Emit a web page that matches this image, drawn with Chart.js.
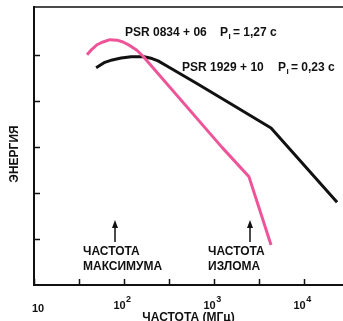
<!DOCTYPE html>
<html>
<head>
<meta charset="utf-8">
<script src="https://cdn.jsdelivr.net/npm/chart.js@4/dist/chart.umd.min.js"></script>
<style>
  html, body { margin: 0; padding: 0; background: #fff; }
  canvas { display: block; }
</style>
</head>
<body>
<canvas id="chart" width="343" height="321"></canvas>
<script>
// Pulsar radio spectra: energy vs frequency (MHz, log axis)

const freqTicks = [10, 31.62, 100, 316.2, 1000, 3162, 10000];
const freqTickLabels = ["10", "", "10^2", "", "10^3", "", "10^4"];
const energyTicks = [1, 2, 3, 4, 5];

// PSR 0834 + 06, P = 1,27 c
const freq0834 = [38.8, 44, 50.1, 58.4, 69.9, 83.6, 97.5, 116.6, 139, 162.6, 1227, 2448, 4300];
const energy0834 = [5.0, 5.12, 5.22, 5.28, 5.33, 5.32, 5.28, 5.2, 5.1, 4.97, 2.99, 2.35, 0.87];

// PSR 1929 + 10, P = 0,23 c
const freq1929 = [49, 60, 74, 93, 120, 167, 205, 239, 293, 631, 1468, 4300, 23300];
const energy1929 = [4.72, 4.83, 4.89, 4.93, 4.96, 4.96, 4.92, 4.87, 4.77, 4.39, 3.96, 3.41, 1.80];

const FONT = "'Liberation Sans', Arial, sans-serif";
const INK = "#111";
const PINK = "rgb(238, 84, 152)";

function toPoints(xs, ys) {
  return xs.map((x, i) => ({ x, y: ys[i] }));
}

// top frame line, inward tick marks, tick labels and the text notes
const frameAndNotes = {
  id: "frameAndNotes",
  afterDraw(chart) {
    const { ctx, chartArea: a, scales: { x, y } } = chart;
    ctx.save();
    ctx.strokeStyle = INK;
    ctx.fillStyle = INK;
    ctx.lineWidth = 1.5;

    ctx.beginPath();
    ctx.moveTo(a.left, a.top);
    ctx.lineTo(a.right, a.top);
    freqTicks.forEach(v => {
      const px = Math.round(x.getPixelForValue(v)) + 0.5;
      ctx.moveTo(px, a.bottom);
      ctx.lineTo(px, a.bottom - 6);
    });
    energyTicks.forEach(v => {
      const py = Math.round(y.getPixelForValue(v)) + 0.5;
      ctx.moveTo(a.left, py);
      ctx.lineTo(a.left + 6, py);
    });
    ctx.stroke();

    // x tick labels: 10, 10², 10³, 10⁴
    ctx.textBaseline = "middle";
    ctx.textAlign = "left";
    freqTicks.forEach((v, i) => {
      const label = freqTickLabels[i];
      if (!label) return;
      const [base, exp] = label.split("^");
      ctx.font = "bold 11px " + FONT;
      const bw = ctx.measureText(base).width;
      ctx.font = "bold 9px " + FONT;
      const ew = exp ? ctx.measureText(exp).width : 0;
      const px = x.getPixelForValue(v);
      if (!exp) {
        ctx.font = "bold 11px " + FONT;
        ctx.fillText(base, px - bw / 2 + 4, 309);
        return;
      }
      const left = px - (bw + ew) / 2 - 2;
      ctx.font = "bold 11px " + FONT;
      ctx.fillText(base, left, 306);
      ctx.font = "bold 9px " + FONT;
      ctx.fillText(exp, left + bw + 0.5, 300);
    });

    // arrows
    [115, 250].forEach(ax => {
      ctx.beginPath();
      ctx.lineWidth = 1.5;
      ctx.moveTo(ax, 242);
      ctx.lineTo(ax, 226);
      ctx.stroke();
      ctx.beginPath();
      ctx.moveTo(ax, 220);
      ctx.lineTo(ax - 3, 228);
      ctx.lineTo(ax + 3, 228);
      ctx.closePath();
      ctx.fill();
    });

    function periodNote(label, px, period, ppx, py) {
      ctx.font = "bold 12px " + FONT;
      ctx.fillText(label, px, py);
      ctx.fillText("P", ppx, py);
      const w = ctx.measureText("P").width;
      ctx.font = "bold 8px " + FONT;
      ctx.fillText("I", ppx + w + 0.5, py + 4);
      ctx.font = "bold 12px " + FONT;
      ctx.fillText("= " + period, ppx + w + 5, py);
    }
    periodNote("PSR 0834 + 06", 125, "1,27 c", 220, 33);
    periodNote("PSR 1929 + 10", 182, "0,23 c", 278, 68);

    ctx.font = "bold 12px " + FONT;
    ctx.fillText("ЧАСТОТА", 83, 252);
    ctx.fillText("МАКСИМУМА", 83, 267);
    ctx.fillText("ЧАСТОТА", 208, 252);
    ctx.fillText("ИЗЛОМА", 208, 267);

    // y axis title
    ctx.translate(15, 154);
    ctx.rotate(-Math.PI / 2);
    ctx.textAlign = "center";
    ctx.fillText("ЭНЕРГИЯ", 0, 0);
    ctx.restore();
  }
};

new Chart(document.getElementById("chart"), {
  type: "line",
  data: {
    datasets: [
      {
        label: "PSR 0834 + 06",
        data: toPoints(freq0834, energy0834),
        borderColor: PINK,
        borderWidth: 3,
        pointRadius: 0,
        borderJoinStyle: "round",
        tension: 0
      },
      {
        label: "PSR 1929 + 10",
        data: toPoints(freq1929, energy1929),
        borderColor: INK,
        borderWidth: 3,
        pointRadius: 0,
        borderJoinStyle: "round",
        tension: 0
      }
    ]
  },
  options: {
    responsive: false,
    animation: false,
    devicePixelRatio: 1,
    layout: { padding: { top: 7, right: 0, bottom: 0, left: 0 } },
    plugins: { legend: { display: false }, tooltip: { enabled: false } },
    scales: {
      x: {
        type: "logarithmic",
        min: 10,
        max: 27100,
        afterBuildTicks: s => { s.ticks = freqTicks.map(v => ({ value: v })); },
        afterFit: s => { s.height = 36; },
        grid: { display: false, drawTicks: false },
        border: { display: true, color: INK, width: 2 },
        ticks: { display: false },
        title: {
          display: true,
          text: "ЧАСТОТА (МГц)",
          color: INK,
          font: { family: FONT, size: 12, weight: "bold" },
          padding: { top: 0, bottom: -4 }
        }
      },
      y: {
        min: 0,
        max: 6.04,
        afterFit: s => { s.width = 34; },
        grid: { display: false, drawTicks: false },
        border: { display: true, color: INK, width: 2 },
        ticks: { display: false }
      }
    }
  },
  plugins: [frameAndNotes]
});
</script>
</body>
</html>
